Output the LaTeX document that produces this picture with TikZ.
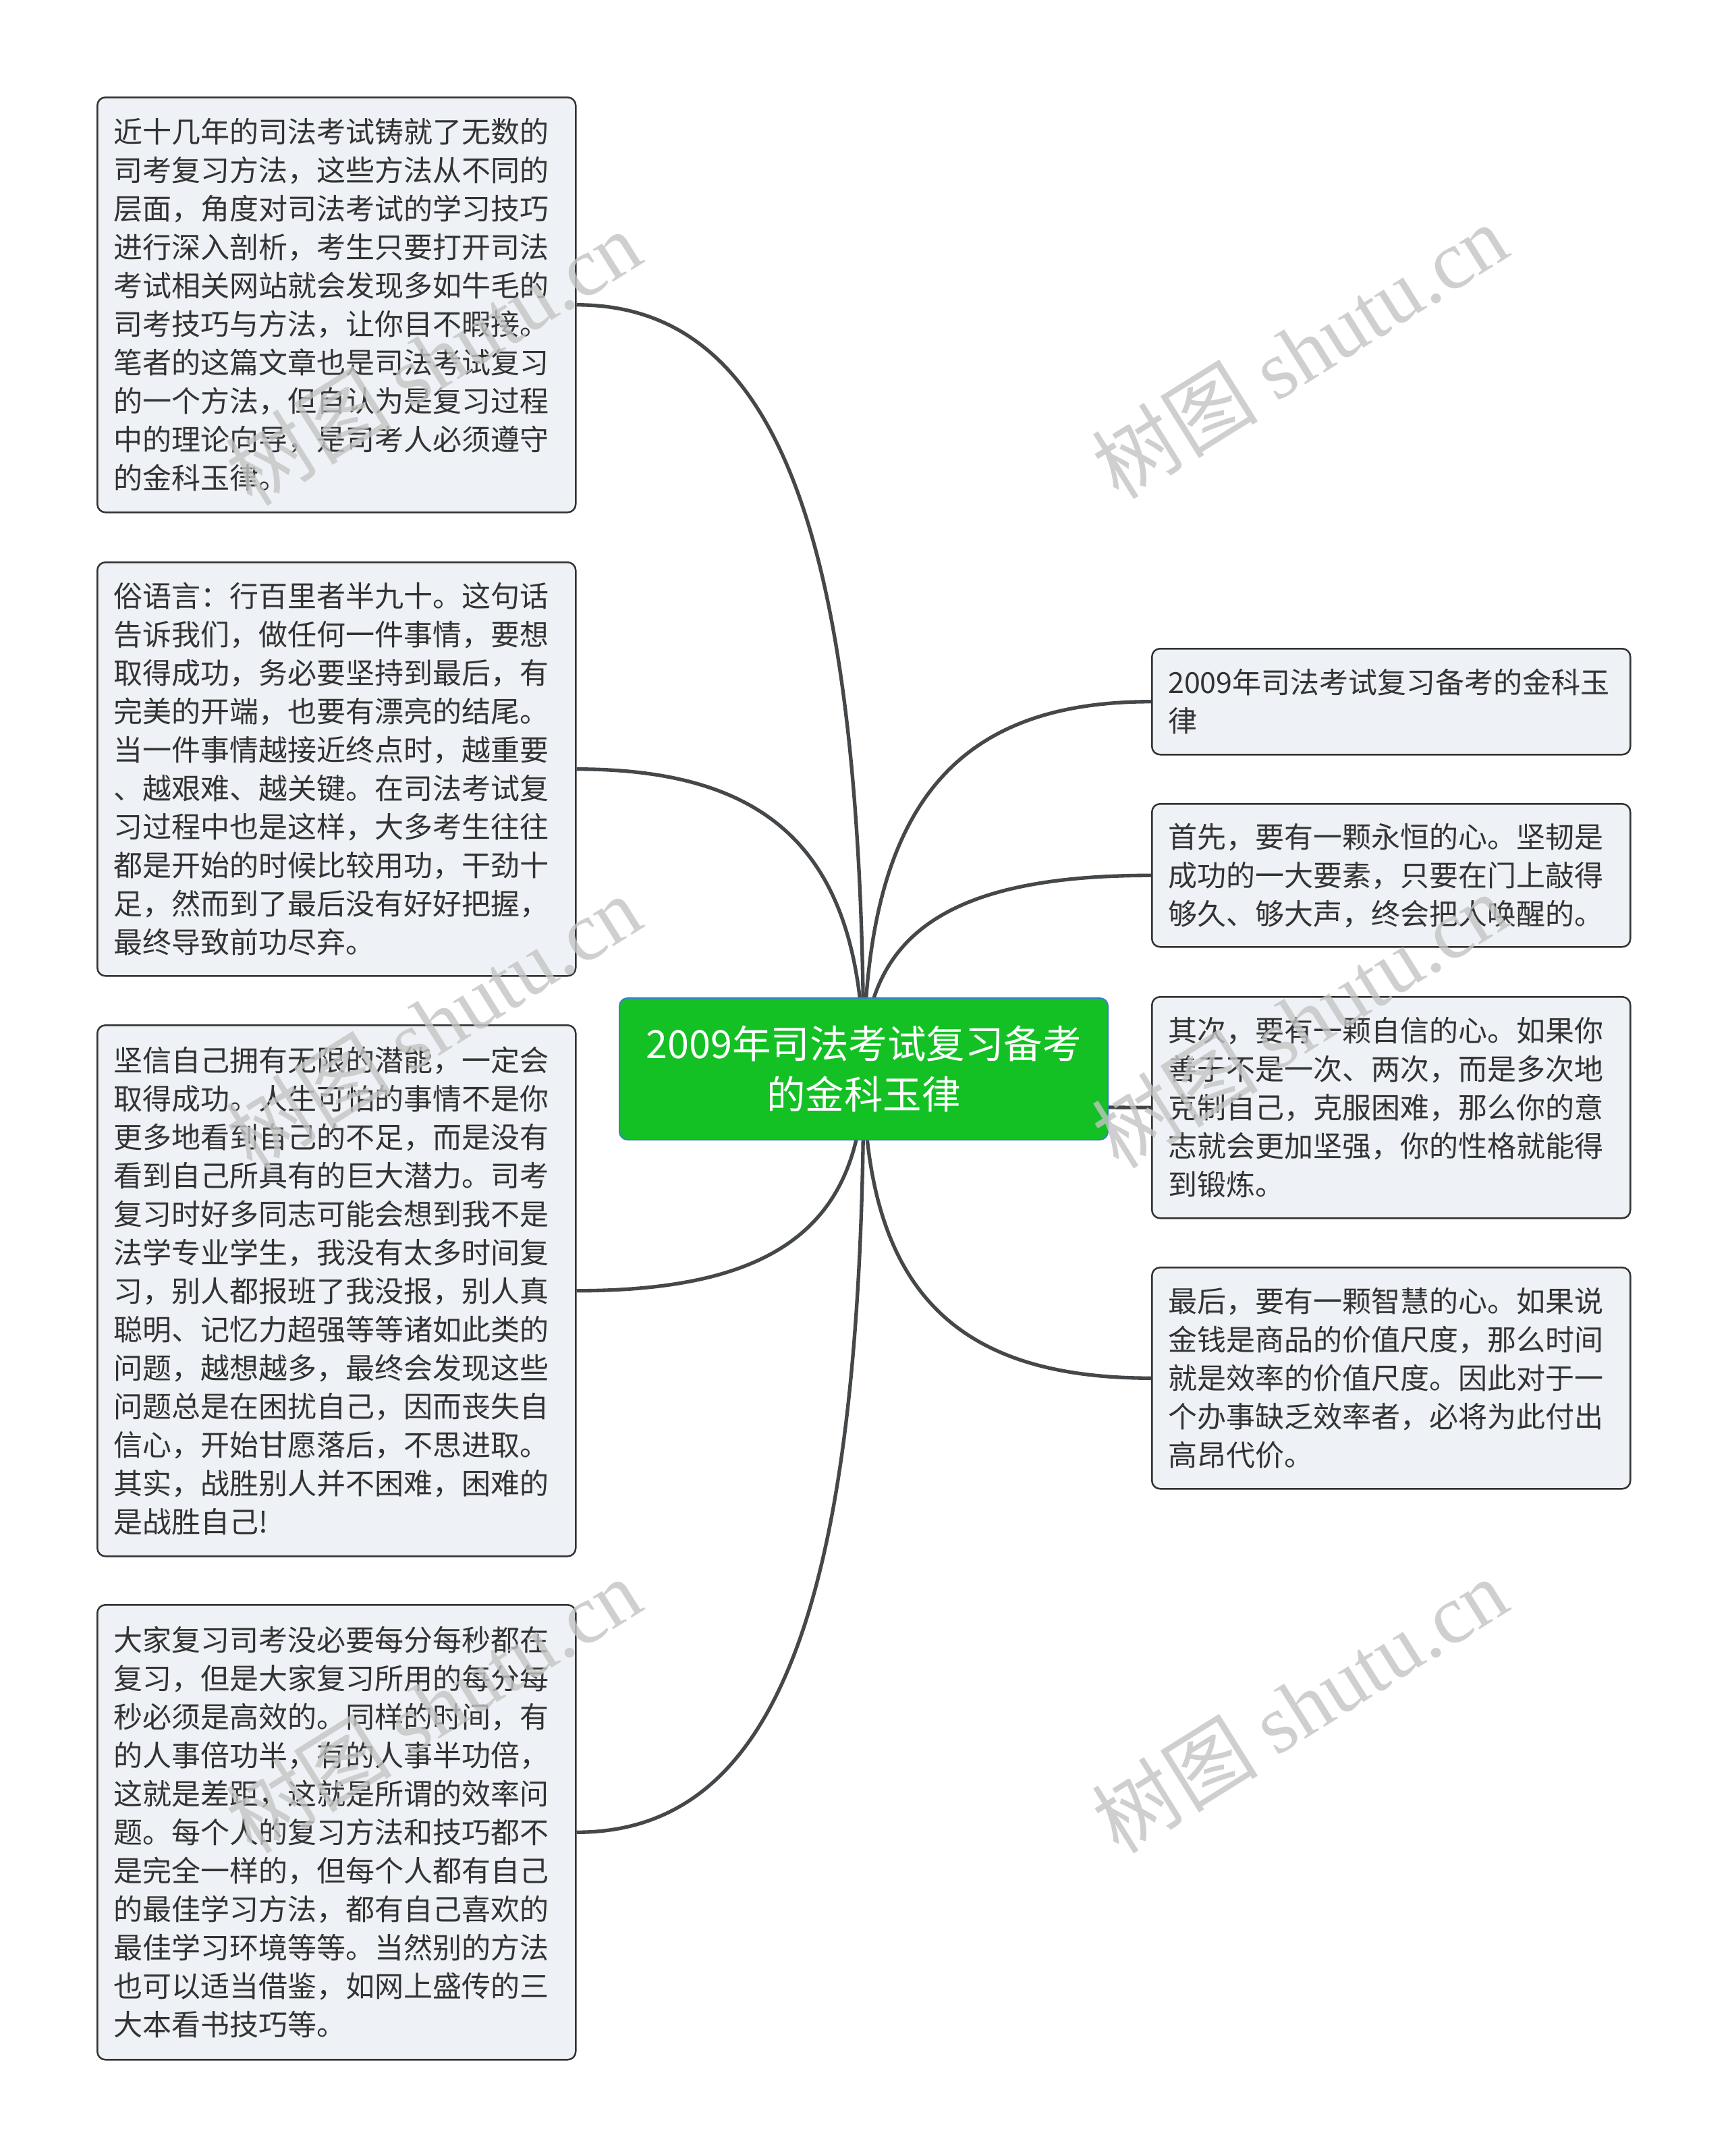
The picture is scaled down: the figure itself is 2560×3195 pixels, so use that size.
\documentclass[tikz,border=0pt]{standalone}
\usepackage{fontspec}
\setmainfont{Noto Sans CJK SC}
\newfontfamily\wmfont{Liberation Serif}
\usetikzlibrary{calc,backgrounds}

\definecolor{leafgray}{HTML}{EEF1F5}
\definecolor{edgegray}{HTML}{45484A}
\definecolor{rootgreen}{HTML}{13C124}
\definecolor{rootblue}{HTML}{3A7FD0}
\definecolor{inkgray}{HTML}{333333}
\definecolor{markgray}{HTML}{C4C4C4}

\tikzset{
    leaf/.style={draw=inkgray, fill=leafgray, line width=0.75pt,
        rounded corners=3.6pt, anchor=north west, align=left,
        text=inkgray, text width=198.3pt, inner xsep=7.2pt,
        font=\fontsize{12.9}{17.1}\selectfont},
    root/.style={draw=rootblue, fill=rootgreen, line width=0.6pt,
        rounded corners=3.6pt, anchor=north west, align=center,
        text=white, minimum width=217.2pt, minimum height=63pt,
        font=\fontsize{17.25}{22.5}\selectfont},
    twig/.style={draw=edgegray, line width=1.6pt,
        to path={.. controls ($(\tikztostart)!0.7!(\tikztostart|-\tikztotarget)$)
            and ($(\tikztotarget)!0.7!(\tikztostart|-\tikztotarget)$) .. (\tikztotarget)}},
    wmark/.style={text=markgray, text opacity=0.8, rotate=32,
        font=\fontsize{37}{37}\selectfont}
}

\begin{document}
\begin{tikzpicture}[x=0.3pt,y=-0.3pt]
    \useasboundingbox (0,0) rectangle (2560,3195);

    % central topic
    \node[root] (mc) at (917,1478) {2009年司法考试复习备考\\的金科玉律};

    % left branches
    \node[leaf,minimum height=184.5pt] (l1) at (143,143)
        {近十几年的司法考试铸就了无数的\\
         司考复习方法，这些方法从不同的\\
         层面，角度对司法考试的学习技巧\\
         进行深入剖析，考生只要打开司法\\
         考试相关网站就会发现多如牛毛的\\
         司考技巧与方法，让你目不暇接。\\
         笔者的这篇文章也是司法考试复习\\
         的一个方法，但自认为是复习过程\\
         中的理论向导，是司考人必须遵守\\
         的金科玉律。};
    \node[leaf,minimum height=183.9pt] (l2) at (143,832)
        {俗语言：行百里者半九十。这句话\\
         告诉我们，做任何一件事情，要想\\
         取得成功，务必要坚持到最后，有\\
         完美的开端，也要有漂亮的结尾。\\
         当一件事情越接近终点时，越重要\\
         、越艰难、越关键。在司法考试复\\
         习过程中也是这样，大多考生往往\\
         都是开始的时候比较用功，干劲十\\
         足，然而到了最后没有好好把握，\\
         最终导致前功尽弃。};
    \node[leaf,minimum height=236.1pt] (l3) at (143,1518)
        {坚信自己拥有无限的潜能，一定会\\
         取得成功。人生可怕的事情不是你\\
         更多地看到自己的不足，而是没有\\
         看到自己所具有的巨大潜力。司考\\
         复习时好多同志可能会想到我不是\\
         法学专业学生，我没有太多时间复\\
         习，别人都报班了我没报，别人真\\
         聪明、记忆力超强等等诸如此类的\\
         问题，越想越多，最终会发现这些\\
         问题总是在困扰自己，因而丧失自\\
         信心，开始甘愿落后，不思进取。\\
         其实，战胜别人并不困难，困难的\\
         是战胜自己!};
    \node[leaf,minimum height=202.2pt] (l4) at (143,2377)
        {大家复习司考没必要每分每秒都在\\
         复习，但是大家复习所用的每分每\\
         秒必须是高效的。同样的时间，有\\
         的人事倍功半，有的人事半功倍，\\
         这就是差距，这就是所谓的效率问\\
         题。每个人的复习方法和技巧都不\\
         是完全一样的，但每个人都有自己\\
         的最佳学习方法，都有自己喜欢的\\
         最佳学习环境等等。当然别的方法\\
         也可以适当借鉴，如网上盛传的三\\
         大本看书技巧等。};

    % right branches
    \node[leaf,minimum height=47.1pt] (r1) at (1706,960)
        {2009年司法考试复习备考的金科玉\\
         律};
    \node[leaf,minimum height=63.6pt] (r2) at (1706,1190)
        {首先，要有一颗永恒的心。坚韧是\\
         成功的一大要素，只要在门上敲得\\
         够久、够大声，终会把人唤醒的。};
    \node[leaf,minimum height=98.4pt] (r3) at (1706,1476)
        {其次，要有一颗自信的心。如果你\\
         善于不是一次、两次，而是多次地\\
         克制自己，克服困难，那么你的意\\
         志就会更加坚强，你的性格就能得\\
         到锻炼。};
    \node[leaf,minimum height=98.4pt] (r4) at (1706,1877)
        {最后，要有一颗智慧的心。如果说\\
         金钱是商品的价值尺度，那么时间\\
         就是效率的价值尺度。因此对于一\\
         个办事缺乏效率者，必将为此付出\\
         高昂代价。};

    % connectors, under the boxes
    \begin{scope}[on background layer]
        \fill[white] (0,0) rectangle (2560,3195);
        \draw[twig] (mc.center) to (l1.east);
        \draw[twig] (mc.center) to (l2.east);
        \draw[twig] (mc.center) to (l3.east);
        \draw[twig] (mc.center) to (l4.east);
        \draw[twig] (mc.center) to (r1.west);
        \draw[twig] (mc.center) to (r2.west);
        \draw[twig] (mc.center) to (r3.west);
        \draw[twig] (mc.center) to (r4.west);
    \end{scope}

    % watermark
    \foreach \wx/\wy [count=\i] in {642/530,1926/520,642/1515,1926/1512,642/2527,1926/2527}
        \node[wmark] (wm\i) at (\wx,\wy) {树图 {\wmfont shutu.cn}};
\end{tikzpicture}
\end{document}
